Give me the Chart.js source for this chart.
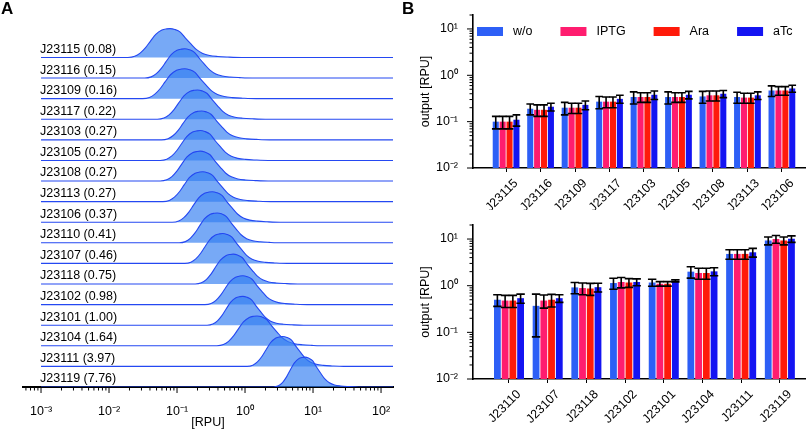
<!DOCTYPE html>
<html>
<head>
<meta charset="utf-8">
<script src="https://cdn.jsdelivr.net/npm/chart.js@4.4.1/dist/chart.umd.min.js"></script>
<style>
  html, body { margin: 0; padding: 0; background: #fff; }
  body { width: 807px; height: 430px; position: relative; overflow: hidden;
         font-family: "Liberation Sans", Arial, Helvetica, sans-serif; }
  canvas { position: absolute; }
  .tag { position: absolute; font-weight: bold; font-size: 17px; line-height: 17px; }
</style>
</head>
<body>
<canvas id="ridge" width="400" height="430" style="left:0;top:0"></canvas>
<canvas id="barsTop" width="407" height="210" style="left:400px;top:0"></canvas>
<canvas id="barsBottom" width="407" height="220" style="left:400px;top:210px"></canvas>
<div class="tag" style="left:1px;top:0px">A</div>
<div class="tag" style="left:402px;top:0px">B</div>
<script>
// ---- panel A: histograms per promoter ----
const ROW_NAMES = ["J23115", "J23116", "J23109", "J23117", "J23103", "J23105", "J23108", "J23113", "J23106",
  "J23110", "J23107", "J23118", "J23102", "J23101", "J23104", "J23111", "J23119"];
const ROW_RPU = [0.08, 0.15, 0.16, 0.22, 0.27, 0.27, 0.27, 0.27, 0.37, 0.41, 0.46, 0.75, 0.98, 1.00, 1.64, 3.97, 7.76];
// peak position of each histogram [RPU]
const ROW_MODE = [0.079, 0.13, 0.13, 0.20, 0.23, 0.22, 0.22, 0.24, 0.33, 0.39, 0.47, 0.67, 0.93, 0.93, 1.5, 3.6, 7.6];
// spread (in decades, relative to the top histogram) and peak height (in rows)
const ROW_WIDTH = [1.0, 0.95, 1.0, 0.95, 0.95, 0.95, 0.95, 0.95, 0.95, 0.9, 0.9, 0.9, 0.9, 0.85, 0.95, 0.85, 0.75];
const ROW_HEIGHT = [1.40, 1.42, 1.45, 1.42, 1.40, 1.45, 1.45, 1.45, 1.48, 1.45, 1.45, 1.45, 1.40, 1.40, 1.45, 1.45, 1.45];
// histogram outline: offset from peak [decades] and relative height
const PROFILE_DX = [-0.62, -0.52, -0.44, -0.36, -0.29, -0.21, -0.12, -0.05, 0, 0.07, 0.15, 0.23, 0.31, 0.39, 0.48, 0.58, 0.7, 0.85, 1.05];
const PROFILE_H = [0, 0.04, 0.15, 0.34, 0.56, 0.8, 0.95, 0.99, 1, 0.97, 0.88, 0.66, 0.46, 0.27, 0.14, 0.07, 0.035, 0.015, 0];
const RIDGE_X_START = 1e-3;
const RIDGE_X_END = 150;
const RIDGE_DECADES = [1e-3, 1e-2, 1e-1, 1, 10, 100];
const RIDGE_TICK_LABELS = ["10\u207B\u00B3", "10\u207B\u00B2", "10\u207B\u00B9", "10\u2070", "10\u00B9", "10\u00B2"];

// ---- panel B: bar charts ----
const TOP_NAMES = ["J23115", "J23116", "J23109", "J23117", "J23103", "J23105", "J23108", "J23113", "J23106"];
const TOP_WO = [0.10, 0.19, 0.20, 0.27, 0.34, 0.34, 0.35, 0.34, 0.47];
const TOP_IPTG = [0.10, 0.18, 0.20, 0.27, 0.34, 0.34, 0.37, 0.33, 0.47];
const TOP_ARA = [0.10, 0.18, 0.20, 0.27, 0.34, 0.34, 0.37, 0.33, 0.47];
const TOP_ATC = [0.11, 0.21, 0.23, 0.31, 0.38, 0.38, 0.40, 0.37, 0.52];
const TOP_WO_SD = [0.03, 0.05, 0.06, 0.08, 0.10, 0.10, 0.10, 0.09, 0.12];
const TOP_IPTG_SD = [0.03, 0.05, 0.05, 0.07, 0.08, 0.08, 0.09, 0.08, 0.10];
const TOP_ARA_SD = [0.03, 0.05, 0.05, 0.07, 0.08, 0.08, 0.09, 0.08, 0.10];
const TOP_ATC_SD = [0.03, 0.04, 0.05, 0.06, 0.08, 0.07, 0.07, 0.07, 0.09];

const BOT_NAMES = ["J23110", "J23107", "J23118", "J23102", "J23101", "J23104", "J23111", "J23119"];
const BOT_WO = [0.50, 0.37, 0.92, 1.14, 1.17, 2.0, 4.8, 9.3];
const BOT_IPTG = [0.48, 0.48, 0.89, 1.2, 1.1, 1.87, 4.8, 10.0];
const BOT_ARA = [0.48, 0.50, 0.87, 1.17, 1.1, 1.87, 4.8, 9.3];
const BOT_ATC = [0.54, 0.54, 0.93, 1.2, 1.27, 2.03, 5.2, 10.1];
const BOT_WO_SD = [0.14, 0.29, 0.25, 0.3, 0.2, 0.55, 1.1, 1.8];
const BOT_IPTG_SD = [0.14, 0.15, 0.25, 0.3, 0.12, 0.5, 1.1, 1.9];
const BOT_ARA_SD = [0.14, 0.15, 0.25, 0.25, 0.12, 0.5, 1.1, 1.8];
const BOT_ATC_SD = [0.12, 0.1, 0.2, 0.2, 0.06, 0.4, 1.1, 1.6];

const CONDITIONS = ["w/o", "IPTG", "Ara", "aTc"];
const BAR_DECADES = [0.01, 0.1, 1, 10];
const BAR_TICK_LABELS = ["10\u207B\u00B2", "10\u207B\u00B9", "10\u2070", "10\u00B9"];

const COLORS = { wo: "#2d5ff6", iptg: "#ff1d6f", ara: "#ff1a0a", atc: "#1414f2" };
const FONT = { family: '"Liberation Sans", Arial, Helvetica, sans-serif', size: 12.5 };

Chart.defaults.font.family = FONT.family;
Chart.defaults.font.size = FONT.size;
Chart.defaults.color = "#000";

function decadeLabel(decades, labels) {
  return (v) => {
    const k = decades.findIndex((d) => Math.abs(d - v) / d < 1e-6);
    return k < 0 ? "" : labels[k];
  };
}

// log axes: longer marks at decades, short ones in between
const logTicks = {
  id: "logTicks",
  afterDraw(chart, args, opts) {
    const ctx = chart.ctx;
    ctx.save();
    ctx.strokeStyle = "#000";
    ctx.lineWidth = 1;
    for (const id of opts.axes || []) {
      const s = chart.scales[id];
      for (const t of s.ticks) {
        const e = Math.floor(Math.log10(t.value) + 1e-9);
        const m = t.value / Math.pow(10, e);
        if (Math.abs(m - Math.round(m)) > 1e-6) continue;
        const len = Math.round(m) === 1 ? 6 : 3.5;
        const p = s.getPixelForValue(t.value);
        ctx.beginPath();
        if (s.isHorizontal()) {
          ctx.moveTo(p, s.top);
          ctx.lineTo(p, s.top + len);
        } else {
          ctx.moveTo(s.right, p);
          ctx.lineTo(s.right - len, p);
        }
        ctx.stroke();
      }
    }
    ctx.restore();
  },
};

const errorBars = {
  id: "errorBars",
  afterDatasetsDraw(chart) {
    const ctx = chart.ctx;
    const y = chart.scales.y;
    ctx.save();
    ctx.strokeStyle = "#000";
    ctx.lineWidth = 1.6;
    chart.data.datasets.forEach((ds, d) => {
      chart.getDatasetMeta(d).data.forEach((bar, i) => {
        const v = ds.data[i].y;
        const top = y.getPixelForValue(v + ds.sd[i]);
        const bot = y.getPixelForValue(Math.max(v - ds.sd[i], y.min));
        const half = bar.width / 2 + 0.8;
        ctx.beginPath();
        ctx.moveTo(bar.x, top);
        ctx.lineTo(bar.x, bot);
        ctx.moveTo(bar.x - half, top);
        ctx.lineTo(bar.x + half, top);
        ctx.moveTo(bar.x - half, bot);
        ctx.lineTo(bar.x + half, bot);
        ctx.stroke();
      });
    });
    ctx.restore();
  },
};

// legend sitting inside the plot area of the upper bar chart
const insideLegend = {
  id: "insideLegend",
  afterDraw(chart, args, opts) {
    if (!opts.show) return;
    const { ctx, chartArea } = chart;
    let x = chartArea.left + 4;
    const y = chartArea.top + 16.5;
    ctx.save();
    ctx.font = `${FONT.size}px ${FONT.family}`;
    ctx.textBaseline = "middle";
    for (const ds of chart.data.datasets) {
      ctx.fillStyle = ds.backgroundColor;
      ctx.fillRect(x, y - 4.5, 26, 9);
      ctx.fillStyle = "#000";
      ctx.fillText(ds.label, x + 36, y);
      x += 36 + ctx.measureText(ds.label).width + 28;
    }
    ctx.restore();
  },
};

// ---- panel A ----
function ridgePoints(i) {
  const base = ROW_NAMES.length - 1 - i;
  const pts = [{ x: RIDGE_X_START, y: base }];
  PROFILE_DX.forEach((d, k) => {
    pts.push({
      x: ROW_MODE[i] * Math.pow(10, d * ROW_WIDTH[i]),
      y: base + PROFILE_H[k] * ROW_HEIGHT[i],
    });
  });
  pts.push({ x: RIDGE_X_END, y: base });
  return pts;
}

new Chart(document.getElementById("ridge"), {
  type: "line",
  plugins: [logTicks],
  data: {
    datasets: ROW_NAMES.map((name, i) => ({
      label: name,
      data: ridgePoints(i),
      order: ROW_NAMES.length - 1 - i,
      fill: { value: ROW_NAMES.length - 1 - i },
      borderColor: "#2448f2",
      borderWidth: 1.1,
      backgroundColor: "rgba(48,124,242,0.66)",
      pointRadius: 0,
      cubicInterpolationMode: "monotone",
    })),
  },
  options: {
    responsive: false,
    animation: false,
    events: [],
    layout: { padding: { left: 23, right: 7, top: 10.4, bottom: 0 } },
    plugins: {
      legend: { display: false },
      tooltip: { enabled: false },
      logTicks: { axes: ["x"] },
    },
    scales: {
      x: {
        type: "logarithmic",
        min: Math.pow(10, -3.265),
        max: Math.pow(10, 2.176),
        afterFit: (s) => {
          s.height = 43;
          s.paddingLeft = 0;
          s.paddingRight = 0;
        },
        grid: { display: false },
        border: { color: "#000", width: 2 },
        ticks: {
          autoSkip: false,
          maxRotation: 0,
          padding: 9,
          callback: decadeLabel(RIDGE_DECADES, RIDGE_TICK_LABELS),
        },
        title: { display: true, text: "[RPU]", padding: { top: 0, bottom: 0 } },
      },
      y: {
        min: 0,
        max: 17.6,
        afterFit: (s) => { s.width = 0; },
        afterBuildTicks: (s) => {
          s.ticks = ROW_NAMES.map((_, i) => ({ value: ROW_NAMES.length - 1 - i }));
        },
        grid: { display: false },
        border: { display: false },
        ticks: {
          mirror: true,
          padding: 17,
          labelOffset: -8,
          autoSkip: false,
          callback: (v) => {
            const i = ROW_NAMES.length - 1 - v;
            return `${ROW_NAMES[i]} (${ROW_RPU[i].toFixed(2)})`;
          },
        },
      },
    },
  },
});

// ---- panel B ----
function barChart(canvasId, names, series, xMin, xMax, axisHeight, showLegend) {
  return new Chart(document.getElementById(canvasId), {
    type: "bar",
    plugins: [logTicks, errorBars, insideLegend],
    data: {
      datasets: series.map((s) => ({
        label: s.label,
        data: s.values.map((v, i) => ({ x: i, y: v })),
        sd: s.sd,
        backgroundColor: s.color,
        categoryPercentage: 0.8,
        barPercentage: 0.88,
      })),
    },
    options: {
      responsive: false,
      animation: false,
      events: [],
      layout: { padding: { left: 0, right: 2, top: 15, bottom: 0 } },
      plugins: {
        legend: { display: false },
        tooltip: { enabled: false },
        logTicks: { axes: ["y"] },
        insideLegend: { show: showLegend },
      },
      scales: {
        x: {
          type: "linear",
          offset: false,
          min: xMin,
          max: xMax,
          afterFit: (s) => {
            s.height = axisHeight;
            s.paddingLeft = 0;
            s.paddingRight = 0;
          },
          afterBuildTicks: (s) => { s.ticks = names.map((_, i) => ({ value: i })); },
          grid: { offset: false, drawOnChartArea: false, tickLength: 4, color: "#000" },
          border: { color: "#000", width: 1.6 },
          ticks: {
            autoSkip: false,
            minRotation: 45,
            maxRotation: 45,
            padding: 4,
            labelOffset: 10,
            callback: (v) => names[v] ?? "",
          },
        },
        y: {
          type: "logarithmic",
          min: 0.01,
          max: 20,
          afterFit: (s) => { s.width = 73; },
          grid: { display: false },
          border: { color: "#000", width: 1.6 },
          ticks: {
            autoSkip: false,
            padding: 7,
            callback: decadeLabel(BAR_DECADES, BAR_TICK_LABELS),
          },
          title: { display: true, text: "output [RPU]", padding: { top: 18.5, bottom: 0 } },
        },
      },
    },
  });
}

barChart("barsTop", TOP_NAMES, [
  { label: CONDITIONS[0], color: COLORS.wo, values: TOP_WO, sd: TOP_WO_SD },
  { label: CONDITIONS[1], color: COLORS.iptg, values: TOP_IPTG, sd: TOP_IPTG_SD },
  { label: CONDITIONS[2], color: COLORS.ara, values: TOP_ARA, sd: TOP_ARA_SD },
  { label: CONDITIONS[3], color: COLORS.atc, values: TOP_ATC, sd: TOP_ATC_SD },
], -0.96, 8.67, 42, true);

barChart("barsBottom", BOT_NAMES, [
  { label: CONDITIONS[0], color: COLORS.wo, values: BOT_WO, sd: BOT_WO_SD },
  { label: CONDITIONS[1], color: COLORS.iptg, values: BOT_IPTG, sd: BOT_IPTG_SD },
  { label: CONDITIONS[2], color: COLORS.ara, values: BOT_ARA, sd: BOT_ARA_SD },
  { label: CONDITIONS[3], color: COLORS.atc, values: BOT_ATC, sd: BOT_ATC_SD },
], -0.93, 7.65, 51, false);
</script>
</body>
</html>
